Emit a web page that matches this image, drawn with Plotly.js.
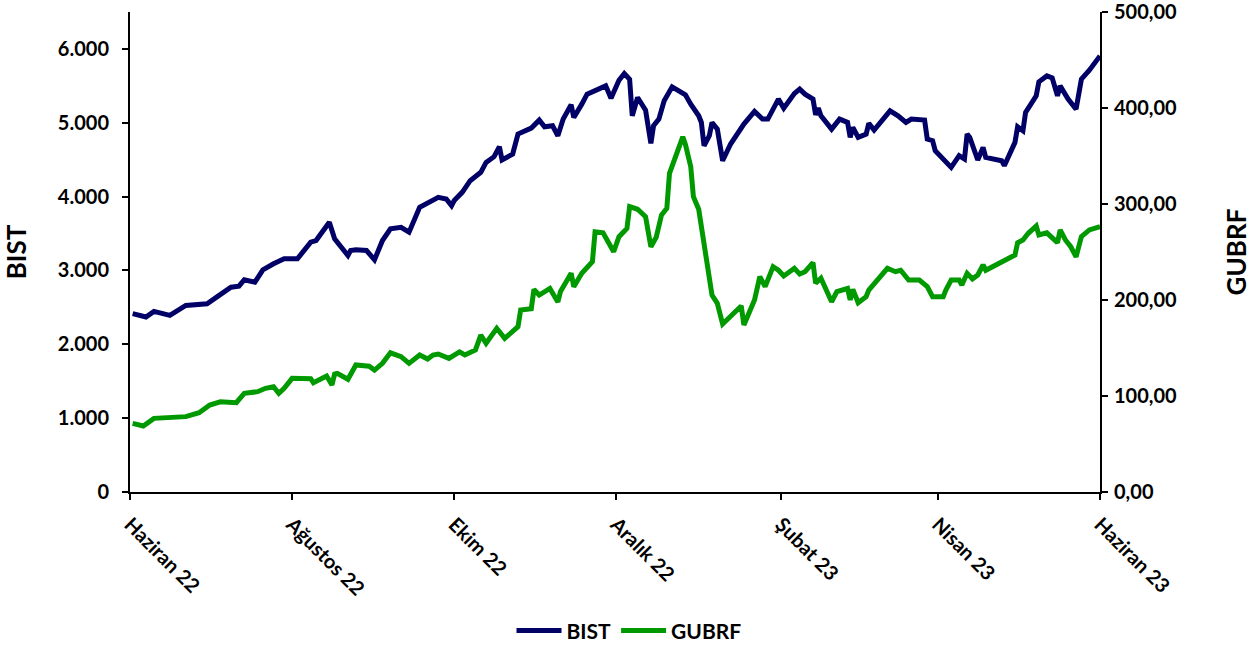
<!DOCTYPE html>
<html>
<head>
<meta charset="utf-8">
<script src="https://cdn.plot.ly/plotly-3.0.1.min.js"></script>
<style>html,body{margin:0;padding:0;background:#fff;}#chart{width:1258px;height:647px;}</style>
</head>
<body>
<div id="chart"></div>
<script>
const bistDates = ["2022-06-02","2022-06-07","2022-06-10","2022-06-16","2022-06-22","2022-06-30","2022-07-04","2022-07-09","2022-07-12","2022-07-14","2022-07-18","2022-07-21","2022-07-25","2022-07-29","2022-08-03","2022-08-08","2022-08-10","2022-08-15","2022-08-17","2022-08-18","2022-08-22","2022-08-23","2022-08-25","2022-08-29","2022-09-01","2022-09-04","2022-09-07","2022-09-11","2022-09-14","2022-09-18","2022-09-21","2022-09-25","2022-09-28","2022-09-30","2022-10-01","2022-10-04","2022-10-07","2022-10-11","2022-10-13","2022-10-16","2022-10-18","2022-10-19","2022-10-23","2022-10-25","2022-10-30","2022-11-02","2022-11-04","2022-11-07","2022-11-09","2022-11-11","2022-11-14","2022-11-15","2022-11-18","2022-11-20","2022-11-27","2022-11-29","2022-12-02","2022-12-04","2022-12-06","2022-12-07","2022-12-09","2022-12-11","2022-12-12","2022-12-14","2022-12-15","2022-12-17","2022-12-19","2022-12-22","2022-12-27","2022-12-29","2023-01-01","2023-01-02","2023-01-03","2023-01-05","2023-01-06","2023-01-08","2023-01-10","2023-01-13","2023-01-18","2023-01-22","2023-01-25","2023-01-27","2023-01-29","2023-01-31","2023-02-02","2023-02-06","2023-02-08","2023-02-10","2023-02-13","2023-02-14","2023-02-15","2023-02-16","2023-02-20","2023-02-23","2023-02-26","2023-02-27","2023-02-28","2023-03-02","2023-03-05","2023-03-06","2023-03-08","2023-03-14","2023-03-17","2023-03-20","2023-03-22","2023-03-27","2023-03-28","2023-03-30","2023-03-31","2023-04-02","2023-04-03","2023-04-06","2023-04-09","2023-04-11","2023-04-12","2023-04-13","2023-04-16","2023-04-18","2023-04-19","2023-04-25","2023-04-26","2023-04-28","2023-04-30","2023-05-01","2023-05-03","2023-05-04","2023-05-08","2023-05-09","2023-05-12","2023-05-14","2023-05-16","2023-05-17","2023-05-20","2023-05-23","2023-05-25","2023-05-28","2023-06-01"];
const bistValues = [2415,2370,2446,2392,2527,2550,2649,2774,2788,2874,2842,3009,3090,3158,3158,3383,3405,3653,3428,3378,3203,3270,3280,3270,3144,3405,3563,3585,3518,3856,3908,3991,3968,3878,3946,4058,4216,4329,4464,4541,4676,4496,4577,4847,4928,5036,4946,4960,4824,5050,5243,5072,5252,5387,5500,5333,5576,5666,5590,5095,5342,5230,5172,4720,4959,5050,5297,5486,5378,5252,5095,5004,4689,4824,5004,4914,4486,4712,4982,5153,5050,5050,5185,5320,5198,5396,5455,5387,5320,5108,5200,5095,4914,5050,5005,4802,4937,4802,4847,4991,4901,5162,5095,5005,5050,5036,4779,4757,4622,4554,4509,4396,4554,4509,4847,4802,4496,4667,4532,4486,4419,4577,4734,4946,4892,5139,5365,5554,5635,5608,5365,5500,5320,5185,5590,5712,5905];

const gubrfDates = ["2022-06-02","2022-06-06","2022-06-10","2022-06-22","2022-06-27","2022-07-01","2022-07-05","2022-07-11","2022-07-14","2022-07-19","2022-07-22","2022-07-25","2022-07-27","2022-07-29","2022-08-01","2022-08-08","2022-08-09","2022-08-11","2022-08-14","2022-08-16","2022-08-17","2022-08-18","2022-08-22","2022-08-25","2022-08-30","2022-09-01","2022-09-04","2022-09-07","2022-09-11","2022-09-14","2022-09-18","2022-09-21","2022-09-23","2022-09-25","2022-09-29","2022-10-03","2022-10-05","2022-10-09","2022-10-11","2022-10-13","2022-10-17","2022-10-20","2022-10-25","2022-10-26","2022-10-30","2022-10-31","2022-11-02","2022-11-06","2022-11-09","2022-11-10","2022-11-14","2022-11-15","2022-11-18","2022-11-22","2022-11-23","2022-11-26","2022-11-30","2022-12-02","2022-12-05","2022-12-06","2022-12-09","2022-12-12","2022-12-14","2022-12-16","2022-12-18","2022-12-20","2022-12-21","2022-12-26","2022-12-27","2022-12-29","2022-12-30","2023-01-01","2023-01-03","2023-01-05","2023-01-06","2023-01-08","2023-01-10","2023-01-17","2023-01-18","2023-01-22","2023-01-24","2023-01-26","2023-01-29","2023-01-31","2023-02-02","2023-02-06","2023-02-08","2023-02-10","2023-02-13","2023-02-14","2023-02-16","2023-02-20","2023-02-22","2023-02-26","2023-02-27","2023-02-28","2023-03-02","2023-03-05","2023-03-06","2023-03-13","2023-03-16","2023-03-18","2023-03-21","2023-03-25","2023-03-28","2023-03-30","2023-04-03","2023-04-04","2023-04-06","2023-04-09","2023-04-10","2023-04-12","2023-04-14","2023-04-16","2023-04-18","2023-04-19","2023-04-24","2023-04-27","2023-04-30","2023-05-01","2023-05-03","2023-05-05","2023-05-08","2023-05-09","2023-05-12","2023-05-16","2023-05-17","2023-05-19","2023-05-21","2023-05-23","2023-05-25","2023-05-28","2023-06-01"];
const gubrfValues = [71.5,68.8,76.7,78.5,82.6,90.6,94,93,102.8,104.5,108,109.7,102.8,108,118.4,118,113.9,116.7,120.8,111.5,122.9,123.6,117.4,132.3,131,127,134,145,141,134,142.7,138.5,142.7,143.7,139.2,146,142.7,148,163.5,154.9,170.5,160,172.2,189.6,191,211,205.2,212,198,209,227.8,213.9,227.8,240,271,270,250.3,266,274.6,297.2,294.5,286.8,255.5,265.3,288.5,295.5,332,370,362,339,307.6,294.5,255.5,222.6,205,196.5,175,193.8,174,200,224.3,213.9,234.7,231,225,233,227,229.5,238.9,217.4,222.6,198.2,208.7,212,200,211,197.2,203.5,210.4,233,229.5,231,220.8,220.8,213.9,203.5,203.5,210.4,220.8,220.8,215.6,227.8,222,226,236.5,231,238.2,243.4,246.9,259.7,262.5,269.5,277,267.7,270,259.7,272.9,262.5,255.5,245,266,273,276.4];

const xTickVals = ["2022-06-01","2022-08-01","2022-10-01","2022-12-01","2023-02-01","2023-04-01","2023-06-01"];
const xTickText = ["Haziran 22","Ağustos 22","Ekim 22","Aralık 22","Şubat 23","Nisan 23","Haziran 23"];
const leftTicks = [0,1000,2000,3000,4000,5000,6000];
const rightTicks = [0,100,200,300,400,500];

const FONT = "Lato, 'Open Sans', sans-serif";
const TICKFONT = {family: FONT, size: 20, color: "#000", weight: "bold"};
const TITLEFONT = {family: FONT, size: 26, color: "#000", weight: "bold"};

const traces = [
  {x: bistDates, y: bistValues, name: "BIST", type: "scatter", mode: "lines",
   line: {color: "#000066", width: 5}, yaxis: "y"},
  {x: gubrfDates, y: gubrfValues, name: "GUBRF", type: "scatter", mode: "lines",
   line: {color: "#009900", width: 5}, yaxis: "y2"}
];

const layout = {
  width: 1258, height: 647,
  margin: {l: 130, r: 158, t: 12, b: 155},
  paper_bgcolor: "#ffffff", plot_bgcolor: "#ffffff",
  separators: ",.",
  font: {family: FONT, size: 20, color: "#000000", weight: "bold"},
  showlegend: true,
  legend: {orientation: "h", x: 0.5, xref: "container", xanchor: "center",
           y: 0.025, yref: "container", yanchor: "middle",
           font: {family: FONT, size: 21, color: "#000", weight: "bold"},
           itemwidth: 45, tracegroupgap: 0},
  xaxis: {type: "date", range: ["2022-06-01", "2023-06-01"],
          tickmode: "array", tickvals: xTickVals, ticktext: xTickText,
          tickangle: 45, ticks: "outside", ticklen: 6, tickwidth: 2, tickcolor: "#000",
          ticklabelstandoff: 5,
          showline: true, linecolor: "#000", linewidth: 2, showgrid: false, zeroline: false,
          tickfont: TICKFONT},
  yaxis: {range: [0, 6500], tickmode: "array", tickvals: leftTicks, tickformat: ",d",
          ticks: "outside", ticklen: 6, tickwidth: 2, tickcolor: "#000",
          ticklabelstandoff: 9,
          showline: true, linecolor: "#000", linewidth: 2, showgrid: false, zeroline: false,
          tickfont: TICKFONT,
          title: {text: "BIST", standoff: 24, font: TITLEFONT}},
  yaxis2: {range: [0, 500], overlaying: "y", side: "right", tickmode: "array", tickvals: rightTicks,
          tickformat: ".2f", ticks: "outside", ticklen: 6, tickwidth: 2, tickcolor: "#000",
          ticklabelstandoff: 2, ticklabeloverflow: "allow",
          showline: true, linecolor: "#000", linewidth: 2, showgrid: false, zeroline: false,
          tickfont: TICKFONT,
          title: {text: "GUBRF", standoff: 52, font: TITLEFONT}}
};

Plotly.newPlot("chart", traces, layout, {displayModeBar: false, staticPlot: true});
</script>
</body>
</html>
